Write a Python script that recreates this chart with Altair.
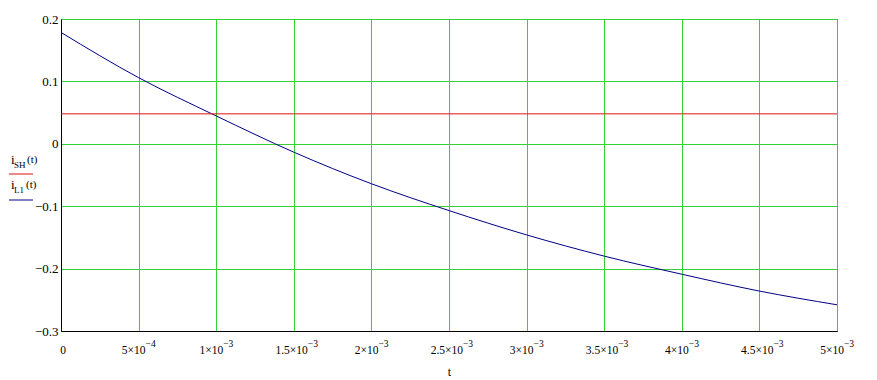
import altair as alt
import pandas as pd

# data
t_vals = [0.0, 0.0005, 0.001, 0.0015, 0.002, 0.0025, 0.003, 0.0035, 0.004, 0.0045, 0.005]
i_L1 = [0.1785, 0.106, 0.0447, -0.0134, -0.064, -0.107, -0.146, -0.180, -0.209, -0.236, -0.258]
i_SH = [0.048] * len(t_vals)

x_ticks = [0.0, 0.0005, 0.001, 0.0015, 0.002, 0.0025, 0.003, 0.0035, 0.004, 0.0045, 0.005]
x_label_base = ["0", "5×10", "1×10", "1.5×10", "2×10", "2.5×10",
                "3×10", "3.5×10", "4×10", "4.5×10", "5×10"]
x_label_exp = ["", "−4", "−3", "−3", "−3", "−3", "−3", "−3", "−3", "−3", "−3"]
y_ticks = [-0.3, -0.2, -0.1, 0.0, 0.1, 0.2]

FONT = "Liberation Serif"
GRID = "#33d133"
RED = "#dd1111"
BLUE = "#000088"

df = pd.DataFrame({"t": t_vals, "iL1": i_L1, "iSH": i_SH})
lab = pd.DataFrame({"t": x_ticks, "base": x_label_base, "exp": x_label_exp})
lab["kind"] = ["zero" if b == "0" else ("long" if "." in b else "short") for b in x_label_base]

x_scale = alt.Scale(domain=[0, 0.005], nice=False, zero=False)
x_enc = alt.X("t:Q", scale=x_scale,
              axis=alt.Axis(values=x_ticks, labels=False, title="t",
                            grid=True, gridColor=GRID, gridOpacity=1, gridWidth=1,
                            ticks=False, domainColor="black", domainWidth=1,
                            titleFont=FONT, titleFontSize=12, titleFontWeight="normal",
                            titleColor="black", titleY=44, titleBaseline="alphabetic"))
y_scale = alt.Scale(domain=[-0.3, 0.2], nice=False, zero=False)
y_axis = alt.Axis(values=y_ticks, format=".1~f", title=None,
                  grid=True, gridColor=GRID, gridOpacity=1, gridWidth=1,
                  ticks=False, domainColor="black", domainWidth=1,
                  labelFont=FONT, labelFontSize=13, labelColor="black",
                  labelPadding=3, labelFlush=False)

blue = alt.Chart(df).mark_line(color=BLUE, strokeWidth=1, interpolate="monotone").encode(
    x=x_enc, y=alt.Y("iL1:Q", scale=y_scale, axis=y_axis))
red = alt.Chart(df).mark_line(color=RED, strokeWidth=1).encode(
    x="t:Q", y=alt.Y("iSH:Q"))

# x tick labels with raised exponents
def xlab(kind, dx):
    base = alt.Chart(lab).transform_filter(alt.datum.kind == kind).mark_text(
        font=FONT, fontSize=11.5, align="center" if kind == "zero" else "right",
        baseline="alphabetic", color="black", dx=dx).encode(
        x=alt.X("t:Q"), y=alt.value(335), text="base:N")
    ex = alt.Chart(lab).transform_filter(alt.datum.kind == kind).mark_text(
        font=FONT, fontSize=9.5, align="left", baseline="alphabetic",
        color="black", dx=dx).encode(
        x=alt.X("t:Q"), y=alt.value(328), text="exp:N")
    return [base, ex]

labels = xlab("zero", 2) + xlab("short", 7) + xlab("long", 14)

one = alt.Data(values=[{"a": 1}])

def txt(s, x, y, size):
    return alt.Chart(one).mark_text(text=s, font=FONT, fontSize=size, align="left",
                                    baseline="alphabetic", color="black").encode(
        x=alt.value(x), y=alt.value(y))

# legend (positions relative to the plot origin at 61,19)
leg = [
    txt("i", -50, 145, 13), txt("SH", -47, 148.5, 9), txt("(t)", -34, 144, 11),
    txt("i", -50, 170, 13), txt("L1", -47, 173.5, 9), txt("(t)", -35, 169, 11),
    alt.Chart(one).mark_rule(color=RED, strokeWidth=1).encode(
        x=alt.value(-52), x2=alt.value(-28), y=alt.value(155)),
    alt.Chart(one).mark_rule(color=BLUE, strokeWidth=1).encode(
        x=alt.value(-52), x2=alt.value(-28), y=alt.value(181)),
]

chart = alt.layer(blue, red, *labels, *leg).properties(
    width=776, height=312,
    autosize=alt.AutoSizeParams(type="none"),
    padding={"left": 61, "top": 19, "right": 40, "bottom": 49},
    background="white",
).configure_view(stroke="black", strokeWidth=1)

chart.save("out.html", embed_options={"renderer": "svg", "actions": False})
